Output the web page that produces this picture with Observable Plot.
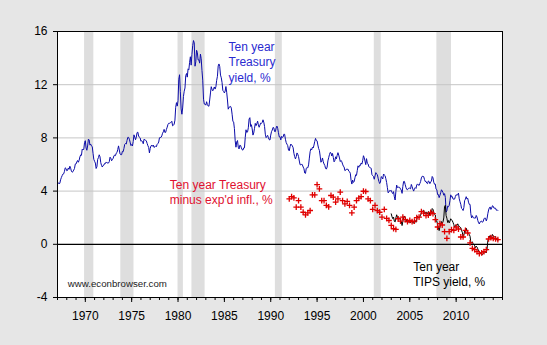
<!DOCTYPE html>
<html>
<head>
<meta charset="utf-8">
<script src="https://cdn.jsdelivr.net/npm/d3@7"></script>
<script src="https://cdn.jsdelivr.net/npm/@observablehq/plot@0.6"></script>
<style>
  html, body { margin: 0; padding: 0; background: #e6e6e6; }
  #chart { width: 547px; height: 345px; }
</style>
</head>
<body>
<div id="chart"></div>
<script>
// Ten-year Treasury yield, monthly, Jan 1967 onward (%)
const treasuryStartYear = 1967;
const treasuryYield = [
  4.58,4.63,4.54,4.59,4.85,5.02,5.16,5.28,5.30,5.48,5.75,5.70,
  5.53,5.56,5.74,5.64,5.87,5.72,5.50,5.42,5.46,5.58,5.70,6.03,
  6.04,6.19,6.30,6.17,6.32,6.57,6.72,6.69,7.16,7.10,7.14,7.65,
  7.79,7.24,7.07,7.39,7.91,7.84,7.46,7.53,7.39,7.33,6.84,6.39,
  6.24,6.11,5.70,5.83,6.39,6.52,6.73,6.58,6.14,5.93,5.81,5.93,
  5.95,6.08,6.07,6.19,6.13,6.11,6.11,6.21,6.55,6.48,6.28,6.36,
  6.46,6.64,6.71,6.67,6.85,6.90,7.13,7.40,7.09,6.79,6.73,6.74,
  6.99,6.96,7.21,7.51,7.58,7.54,7.81,8.04,8.04,7.90,7.68,7.43,
  7.50,7.39,7.73,8.23,8.06,7.86,8.06,8.40,8.43,8.14,8.05,8.00,
  7.74,7.79,7.73,7.56,7.90,7.86,7.83,7.77,7.59,7.41,7.29,6.87,
  7.21,7.39,7.46,7.37,7.46,7.28,7.33,7.40,7.34,7.52,7.58,7.69,
  8.01,8.03,8.04,8.15,8.35,8.46,8.64,8.41,8.42,8.64,8.81,9.01,
  9.10,9.10,9.12,9.18,9.25,8.91,8.95,9.03,9.33,10.30,10.65,10.39,
  10.80,12.41,12.75,11.47,10.18,9.78,10.25,11.10,11.51,11.75,12.68,12.84,
  12.57,13.19,13.12,13.68,14.10,13.47,14.28,14.94,15.32,15.15,13.39,13.72,
  14.59,14.43,13.86,13.87,13.62,14.30,13.95,13.06,12.34,10.91,10.55,10.54,
  10.46,10.72,10.51,10.40,10.38,10.85,11.38,11.85,11.65,11.54,11.69,11.83,
  11.67,11.84,12.32,12.63,13.41,13.56,13.36,12.72,12.52,12.16,11.57,11.50,
  11.38,11.51,11.86,11.43,10.85,10.16,10.31,10.33,10.37,10.24,9.78,9.26,
  9.19,8.70,7.78,7.30,7.71,7.80,7.30,7.17,7.45,7.43,7.25,7.11,
  7.08,7.25,7.25,8.02,8.61,8.40,8.45,8.76,9.42,9.52,8.86,8.99,
  8.67,8.21,8.37,8.72,9.09,8.92,9.06,9.26,8.98,8.80,8.96,9.11,
  9.09,9.17,9.36,9.18,8.86,8.28,8.02,8.11,8.19,8.01,7.87,7.84,
  8.21,8.47,8.59,8.79,8.76,8.48,8.47,8.75,8.89,8.72,8.39,8.08,
  8.09,7.85,8.11,8.04,8.07,8.28,8.27,7.90,7.65,7.53,7.42,7.09,
  7.03,7.34,7.54,7.48,7.39,7.26,6.84,6.59,6.42,6.59,6.87,6.77,
  6.60,6.26,5.98,5.97,6.04,5.96,5.81,5.68,5.36,5.33,5.72,5.77,
  5.75,5.97,6.48,6.97,7.18,7.10,7.30,7.24,7.46,7.74,7.96,7.81,
  7.78,7.47,7.20,7.06,6.63,6.17,6.28,6.49,6.20,6.04,5.93,5.71,
  5.65,5.81,6.27,6.51,6.74,6.91,6.87,6.64,6.83,6.53,6.20,6.30,
  6.58,6.42,6.69,6.89,6.71,6.49,6.22,6.30,6.21,6.03,5.88,5.81,
  5.54,5.57,5.65,5.64,5.65,5.50,5.46,5.34,4.81,4.53,4.83,4.65,
  4.72,5.00,5.23,5.18,5.54,5.90,5.79,5.94,5.92,6.11,6.03,6.28,
  6.66,6.52,6.26,5.99,6.44,6.10,6.05,5.83,5.80,5.74,5.72,5.24,
  5.16,5.10,4.89,5.14,5.39,5.28,5.24,4.97,4.73,4.57,4.65,5.09,
  5.04,4.91,5.28,5.21,5.16,4.93,4.65,4.26,3.87,3.94,4.05,4.03,
  4.05,3.90,3.81,3.96,3.57,3.33,3.98,4.45,4.27,4.29,4.30,4.27,
  4.15,4.08,3.83,4.35,4.72,4.73,4.50,4.28,4.13,4.10,4.19,4.23,
  4.22,4.17,4.50,4.34,4.14,4.00,4.18,4.26,4.20,4.46,4.54,4.47,
  4.42,4.57,4.72,4.99,5.11,5.11,5.09,4.88,4.72,4.73,4.60,4.56,
  4.76,4.72,4.56,4.69,4.75,5.10,5.00,4.67,4.52,4.53,4.15,4.10,
  3.74,3.74,3.51,3.68,3.88,4.10,4.01,3.89,3.69,3.81,3.53,2.42,
  2.52,2.87,2.82,2.93,3.29,3.72,3.56,3.59,3.40,3.39,3.40,3.59,
  3.73,3.69,3.73,3.85,3.42,3.20,3.01,2.70,2.65,2.54,2.76,3.29,
  3.39,3.58,3.41,3.46,3.17,3.00,3.00,2.30,1.98,2.15,2.01,1.98,
  1.97,1.97,2.17,2.05,1.80,1.62,1.53,1.68,1.72,1.75,1.65,1.72,
  1.91,1.98,1.96,1.76,1.93,2.30,2.58,2.74,2.81,2.62,2.72,2.90,
  2.86,2.71,2.72,2.71,2.56,2.60,2.54
];

// Ten-year TIPS yield, monthly, Jan 2003 onward (%)
const tipsStartYear = 2003;
const tipsYield = [
  2.29,2.07,1.93,2.04,1.73,1.68,1.98,2.22,2.05,1.95,1.96,1.98,
  1.81,1.72,1.41,1.71,2.05,2.13,2.03,1.86,1.73,1.62,1.66,1.69,
  1.69,1.61,1.77,1.68,1.63,1.59,1.76,1.80,1.65,1.87,2.10,2.04,
  1.98,2.06,2.24,2.37,2.45,2.54,2.56,2.31,2.29,2.44,2.28,2.30,
  2.46,2.42,2.15,2.24,2.38,2.69,2.63,2.43,2.25,2.21,1.75,1.74,
  1.48,1.24,1.03,1.31,1.46,1.71,1.57,1.69,1.98,2.85,2.93,2.16,
  1.96,1.64,1.79,1.61,1.74,1.92,1.84,1.77,1.64,1.48,1.28,1.36,
  1.47,1.41,1.54,1.43,1.33,1.31,1.24,1.02,0.91,0.53,0.67,1.04,
  1.08,1.21,1.00,0.86,0.80,0.74,0.60,0.14,0.08,0.19,0.04,-0.03,
  -0.11,-0.25,-0.14,-0.21,-0.34,-0.50,-0.62,-0.59,-0.71,-0.75,-0.78,-0.71,
  -0.61,-0.57,-0.59,-0.65,-0.36,0.25,0.46,0.55,0.66,0.43,0.56,0.74,
  0.63,0.55,0.56,0.54,0.37,0.44,0.28
];

// Ten-year Treasury minus expected inflation, quarterly, 1992Q1 onward (%)
const realStartYear = 1992;
const realYield = [
  3.41,3.59,3.49,2.79,
  3.29,2.79,2.41,2.21,
  2.36,2.54,3.72,3.72,
  4.49,4.17,3.29,3.29,
  2.92,2.82,3.67,3.54,
  3.17,3.42,3.92,3.29,
  3.04,3.22,2.92,2.36,
  2.79,3.29,3.47,3.59,
  3.99,3.97,3.42,3.29,
  2.62,2.92,2.54,2.41,
  2.04,2.62,1.95,1.79,
  1.42,1.17,1.12,1.92,
  1.75,2.05,1.85,1.70,
  1.80,1.70,1.75,2.00,
  2.05,2.45,2.35,2.15,
  2.20,2.40,2.30,1.85,
  1.30,1.55,1.45,0.95,
  0.45,0.95,1.10,1.05,
  1.30,1.15,0.55,0.55,
  1.05,0.85,0.10,-0.30,
  -0.40,-0.55,-0.70,-0.65,
  -0.55,-0.40,0.40,0.50,
  0.45,0.40,0.35
];

// NBER recessions (peak month start, trough month end)
const recessionStart = [1969.92, 1973.83, 1980.0, 1981.5, 1990.5, 2001.17, 2007.92];
const recessionEnd   = [1970.92, 1975.25, 1980.58, 1982.92, 1991.25, 2001.92, 2009.5];

const yTicks = [-4, 0, 4, 8, 12, 16];
const yGrid = [4, 8, 12];
const xLabelYears = [1970, 1975, 1980, 1985, 1990, 1995, 2000, 2005, 2010];
const xMinorYears = d3.range(1967, 2016);

const treasury = treasuryYield.map((v, i) => ({date: treasuryStartYear + i / 12, value: v}));
const tips = tipsYield.map((v, i) => ({date: tipsStartYear + i / 12, value: v}));
const real = realYield.map((v, i) => ({date: realStartYear + i / 4, value: v}));
const recessions = recessionStart.map((s, i) => ({start: s, end: recessionEnd[i]}));

const chart = Plot.plot({
  width: 547,
  height: 345,
  marginLeft: 57,
  marginRight: 45,
  marginTop: 31,
  marginBottom: 48,
  x: {domain: [1967, 2015], axis: null},
  y: {domain: [-4, 16], axis: null},
  style: {
    fontFamily: "'Liberation Sans', Arial, sans-serif",
    fontSize: "12px",
    background: "#e6e6e6",
    color: "black",
    overflow: "visible"
  },
  marks: [
    Plot.frame({fill: "white", stroke: "none"}),
    Plot.rect(recessions, {x1: "start", x2: "end", y1: -4, y2: 16, fill: "#dedede"}),
    Plot.ruleY(yGrid, {stroke: "#c6c6c6", strokeWidth: 1}),
    Plot.ruleY([0], {stroke: "black", strokeWidth: 1.2}),
    Plot.line(treasury, {x: "date", y: "value", stroke: "#0c0ca8", strokeWidth: 1}),
    Plot.line(tips, {x: "date", y: "value", stroke: "black", strokeWidth: 1}),
    Plot.dot(real, {x: "date", y: "value", symbol: "plus", r: 2, stroke: "#e00000", strokeWidth: 1.3}),
    Plot.text(["Ten year\nTreasury\nyield, %"], {x: 1985.45, y: 13.75, text: d => d, fill: "#2a2ad0", textAnchor: "start", lineAnchor: "middle", lineHeight: 1.275, fontSize: 12}),
    Plot.text(["Ten year Treasury\nminus exp'd infl., %"], {x: 1979.11, y: 3.97, text: d => d, fill: "#e01030", textAnchor: "start", lineAnchor: "middle", lineHeight: 1.275, fontSize: 12}),
    Plot.text(["Ten year\nTIPS yield, %"], {x: 2005.37, y: -2.22, text: d => d, fill: "black", textAnchor: "start", lineAnchor: "middle", lineHeight: 1.275, fontSize: 12}),
    Plot.text(["www.econbrowser.com"], {x: 1968.11, y: -3.0, text: d => d, fill: "#222", textAnchor: "start", lineAnchor: "middle", fontSize: 9.7}),
    Plot.axisX({ticks: xMinorYears, tickSize: 3, tickFormat: () => "", label: null}),
    Plot.axisX({ticks: xLabelYears, tickSize: 5, tickPadding: 8.5, tickFormat: d => String(d), label: null, fontSize: 12}),
    Plot.axisY({ticks: yTicks, tickSize: 4, tickPadding: 6, tickFormat: d => String(d), label: null, fontSize: 12}),
    Plot.frame({stroke: "black", strokeWidth: 1})
  ]
});
document.getElementById("chart").append(chart);
</script>
</body>
</html>
